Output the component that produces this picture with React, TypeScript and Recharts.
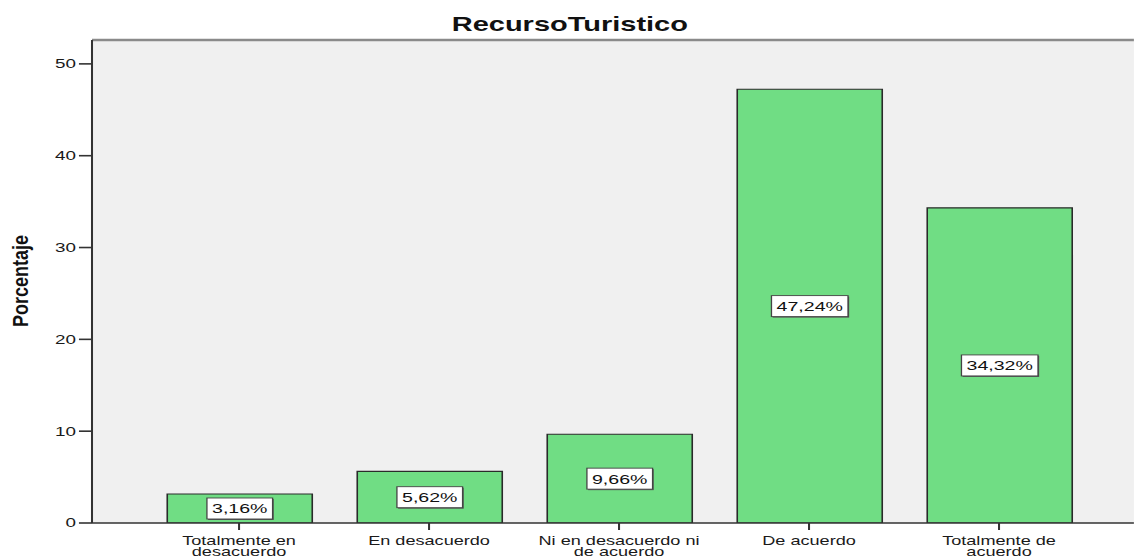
import React from 'react';
import { BarChart, Bar, XAxis, YAxis, CartesianGrid, LabelList, ReferenceLine } from 'recharts';

// ---- data ----
const categories = [
  'Totalmente en desacuerdo',
  'En desacuerdo',
  'Ni en desacuerdo ni de acuerdo',
  'De acuerdo',
  'Totalmente de acuerdo',
];
const tickLines: string[][] = [
  ['Totalmente en', 'desacuerdo'],
  ['En desacuerdo'],
  ['Ni en desacuerdo ni', 'de acuerdo'],
  ['De acuerdo'],
  ['Totalmente de', 'acuerdo'],
];
const percentages = [3.16, 5.62, 9.66, 47.24, 34.32];
const valueLabels = ['3,16%', '5,62%', '9,66%', '47,24%', '34,32%'];
const yTicks = [0, 10, 20, 30, 40, 50];
const yMax = 52.6;
const chartTitle = 'RecursoTuristico';
const yTitle = 'Porcentaje';

const data = categories.map((c, i) => ({ name: c, value: percentages[i], label: valueLabels[i] }));

// ---- layout ----
const S = 1.45; // horizontal stretch of the reference picture
const W = 782;
const H = 560;
const FONT = '"Liberation Sans", Arial, Helvetica, sans-serif';
const INK = '#1a1a1a';

const charW = (s: string) => {
  let w = 0;
  for (const ch of s) {
    if (ch === ',') w += 0.278;
    else if (ch === '%') w += 0.889;
    else w += 0.556;
  }
  return w;
};

const XTick = (props: any) => {
  const { x, y, payload } = props;
  const idx = categories.indexOf(payload.value);
  const lines = idx >= 0 ? tickLines[idx] : [String(payload.value)];
  return (
    <g>
      {lines.map((ln, i) => (
        <text
          key={i}
          x={x}
          y={y + 14 + i * 11.5}
          textAnchor="middle"
          fontFamily={FONT}
          fontSize={12.5}
          fill={INK}
        >
          {ln}
        </text>
      ))}
    </g>
  );
};

const YTick = (props: any) => {
  const { x, y, payload } = props;
  return (
    <text x={x} y={y + 4.5} textAnchor="end" fontFamily={FONT} fontSize={13} fill={INK}>
      {payload.value}
    </text>
  );
};

const BoxLabel = (props: any) => {
  const { x, y, width, height, value } = props;
  const fs = 13.5;
  const cx = Number(x) + Number(width) / 2;
  const cy = Number(y) + Number(height) / 2;
  const tw = charW(String(value)) * fs;
  const bw = tw + 7;
  const bh = 21;
  return (
    <g>
      <rect x={cx - bw / 2 + 0.8} y={cy - bh / 2 + 1} width={bw} height={bh} fill="#555" />
      <rect x={cx - bw / 2} y={cy - bh / 2} width={bw} height={bh} fill="#fff" stroke="#444" strokeWidth={0.9} />
      <text x={cx} y={cy + 5} textAnchor="middle" fontFamily={FONT} fontSize={fs} fill="#111">
        {value}
      </text>
    </g>
  );
};

export default function App() {
  return (
    <>
      <style>{'html,body{margin:0;padding:0;overflow:hidden;background:#fff}'}</style>
      <div
        style={{
          position: 'absolute',
          left: 0,
          top: 0,
          width: W,
          height: H,
          transform: `scaleX(${S})`,
          transformOrigin: '0 0',
          background: '#fff',
        }}
      >
        <BarChart
          width={W}
          height={H}
          data={data}
          margin={{ top: 40, right: 0, bottom: 0, left: 0 }}
        >
          <CartesianGrid fill="#F0F0F0" horizontal={false} vertical={false} />
          <XAxis
            dataKey="name"
            height={37}
            padding={{ left: 35.9, right: 27.5 }}
            axisLine={{ stroke: '#333', strokeWidth: 1.6 }}
            tickLine={{ stroke: '#333', strokeWidth: 1.4 }}
            tickSize={7}
            tickMargin={1}
            tick={<XTick />}
            interval={0}
          />
          <YAxis
            type="number"
            domain={[0, yMax]}
            ticks={yTicks}
            width={63.45}
            axisLine={{ stroke: '#333', strokeWidth: 1.4 }}
            tickLine={{ stroke: '#333', strokeWidth: 1.6 }}
            tickSize={9}
            tickMargin={2}
            tick={<YTick />}
            allowDataOverflow
          />
          <ReferenceLine y={yMax} stroke="#8a8a8a" strokeWidth={2.5} ifOverflow="visible" />
          <Bar
            dataKey="value"
            fill="#70DD84"
            stroke="#2a2a2a"
            strokeWidth={1.1}
            barSize={100}
            isAnimationActive={false}
          >
            <LabelList dataKey="label" content={<BoxLabel />} />
          </Bar>
        </BarChart>
        <svg
          width={W}
          height={H}
          style={{ position: 'absolute', left: 0, top: 0, pointerEvents: 'none' }}
        >
          <text
            x={393}
            y={31.5}
            textAnchor="middle"
            fontFamily={FONT}
            fontWeight="bold"
            fontSize={20}
            fill="#111"
          >
            {chartTitle}
          </text>
          <text
            x={19.5}
            y={281}
            transform="rotate(-90 19.5 281)"
            textAnchor="middle"
            fontFamily={FONT}
            fontWeight="bold"
            fontSize={15}
            fill="#111"
            textLength={92}
            lengthAdjust="spacingAndGlyphs"
          >
            {yTitle}
          </text>
        </svg>
      </div>
    </>
  );
}
